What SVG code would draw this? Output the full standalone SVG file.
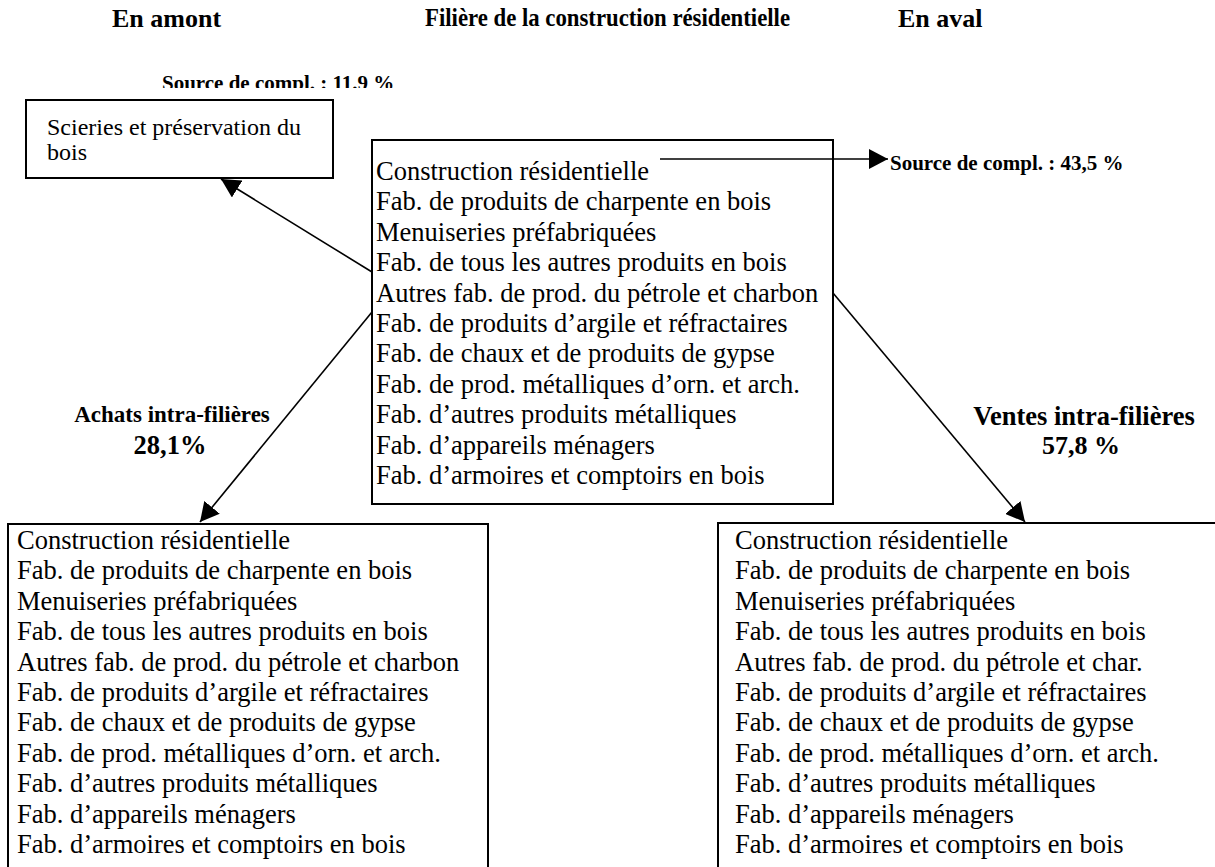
<svg xmlns="http://www.w3.org/2000/svg" width="1215" height="867" viewBox="0 0 1215 867">
<style>
.hdr{font-family:"Liberation Serif","Times New Roman",serif;font-weight:bold;font-size:26px;fill:#000}
.lbl{font-family:"Liberation Serif","Times New Roman",serif;font-weight:bold;fill:#000}
.src{font-family:"Liberation Serif","Times New Roman",serif;font-weight:bold;font-size:21px;fill:#000}
.body{font-family:"Liberation Serif","Times New Roman",serif;font-size:26.5px;fill:#000}
.small{font-family:"Liberation Serif","Times New Roman",serif;font-size:24px;fill:#000}
.box{fill:#fff;stroke:#000;stroke-width:2}
.conn{stroke:#000;stroke-width:1.6;fill:none}
</style>
<defs>
<marker id="arr" markerUnits="userSpaceOnUse" markerWidth="20" markerHeight="20" refX="19" refY="10" orient="auto" viewBox="0 0 20 20">
<path d="M0,0 L19,10 L0,20 z" fill="#000"/>
</marker>
<clipPath id="clipSrc"><rect x="0" y="0" width="1215" height="88"/></clipPath>
</defs>
<rect width="1215" height="867" fill="#fff"/>
<g id="headers">
<text class="hdr" x="112" y="27">En amont</text>
<text class="hdr" x="425" y="26" font-size="24" textLength="365" lengthAdjust="spacingAndGlyphs">Filière de la construction résidentielle</text>
<text class="hdr" x="898" y="27">En aval</text>
</g>
<g id="connectors">
<line class="conn" x1="372" y1="272" x2="221" y2="179" marker-end="url(#arr)"/>
<line class="conn" x1="372" y1="312" x2="200" y2="522" marker-end="url(#arr)"/>
<line class="conn" x1="833" y1="293" x2="1025" y2="522" marker-end="url(#arr)"/>
<line class="conn" x1="660" y1="159" x2="888" y2="159" marker-end="url(#arr)"/>
</g>
<g id="label-src-up">
<text class="src" x="162" y="90" clip-path="url(#clipSrc)">Source de compl. : 11.9 %</text>
</g>
<g id="label-src-down">
<text class="src" x="890" y="170">Source de compl. : 43,5 %</text>
</g>
<g id="label-achats">
<text class="lbl" x="172" y="422" font-size="23" text-anchor="middle">Achats intra-filières</text>
<text class="lbl" x="170" y="454" font-size="26.5" text-anchor="middle">28,1%</text>
</g>
<g id="label-ventes">
<text class="lbl" x="1084" y="425" font-size="26.5" text-anchor="middle">Ventes intra-filières</text>
<text class="lbl" x="1081" y="454" font-size="26" text-anchor="middle">57,8 %</text>
</g>
<g id="node-scieries">
<rect class="box" x="26" y="100" width="307" height="78"/>
<text class="small" x="47" y="135">Scieries et préservation du</text>
<text class="small" x="47" y="159.5">bois</text>
</g>
<g id="node-center">
<rect class="box" x="372" y="140" width="461" height="364" fill-opacity="0"/>
<text class="body" x="376" y="180">Construction résidentielle</text>
<text class="body" x="376" y="210.4">Fab. de produits de charpente en bois</text>
<text class="body" x="376" y="240.8">Menuiseries préfabriquées</text>
<text class="body" x="376" y="271.2">Fab. de tous les autres produits en bois</text>
<text class="body" x="376" y="301.6">Autres fab. de prod. du pétrole et charbon</text>
<text class="body" x="376" y="332">Fab. de produits d’argile et réfractaires</text>
<text class="body" x="376" y="362.4">Fab. de chaux et de produits de gypse</text>
<text class="body" x="376" y="392.8">Fab. de prod. métalliques d’orn. et arch.</text>
<text class="body" x="376" y="423.2">Fab. d’autres produits métalliques</text>
<text class="body" x="376" y="453.6">Fab. d’appareils ménagers</text>
<text class="body" x="376" y="484">Fab. d’armoires et comptoirs en bois</text>
</g>
<g id="node-amont">
<rect class="box" x="8" y="524" width="480" height="360"/>
<text class="body" x="17" y="549">Construction résidentielle</text>
<text class="body" x="17" y="579.4">Fab. de produits de charpente en bois</text>
<text class="body" x="17" y="609.8">Menuiseries préfabriquées</text>
<text class="body" x="17" y="640.2">Fab. de tous les autres produits en bois</text>
<text class="body" x="17" y="670.6">Autres fab. de prod. du pétrole et charbon</text>
<text class="body" x="17" y="701">Fab. de produits d’argile et réfractaires</text>
<text class="body" x="17" y="731.4">Fab. de chaux et de produits de gypse</text>
<text class="body" x="17" y="761.8">Fab. de prod. métalliques d’orn. et arch.</text>
<text class="body" x="17" y="792.2">Fab. d’autres produits métalliques</text>
<text class="body" x="17" y="822.6">Fab. d’appareils ménagers</text>
<text class="body" x="17" y="853">Fab. d’armoires et comptoirs en bois</text>
</g>
<g id="node-aval">
<rect class="box" x="718" y="523" width="520" height="360"/>
<text class="body" x="735" y="549">Construction résidentielle</text>
<text class="body" x="735" y="579.4">Fab. de produits de charpente en bois</text>
<text class="body" x="735" y="609.8">Menuiseries préfabriquées</text>
<text class="body" x="735" y="640.2">Fab. de tous les autres produits en bois</text>
<text class="body" x="735" y="670.6">Autres fab. de prod. du pétrole et char.</text>
<text class="body" x="735" y="701">Fab. de produits d’argile et réfractaires</text>
<text class="body" x="735" y="731.4">Fab. de chaux et de produits de gypse</text>
<text class="body" x="735" y="761.8">Fab. de prod. métalliques d’orn. et arch.</text>
<text class="body" x="735" y="792.2">Fab. d’autres produits métalliques</text>
<text class="body" x="735" y="822.6">Fab. d’appareils ménagers</text>
<text class="body" x="735" y="853">Fab. d’armoires et comptoirs en bois</text>
</g>
</svg>
